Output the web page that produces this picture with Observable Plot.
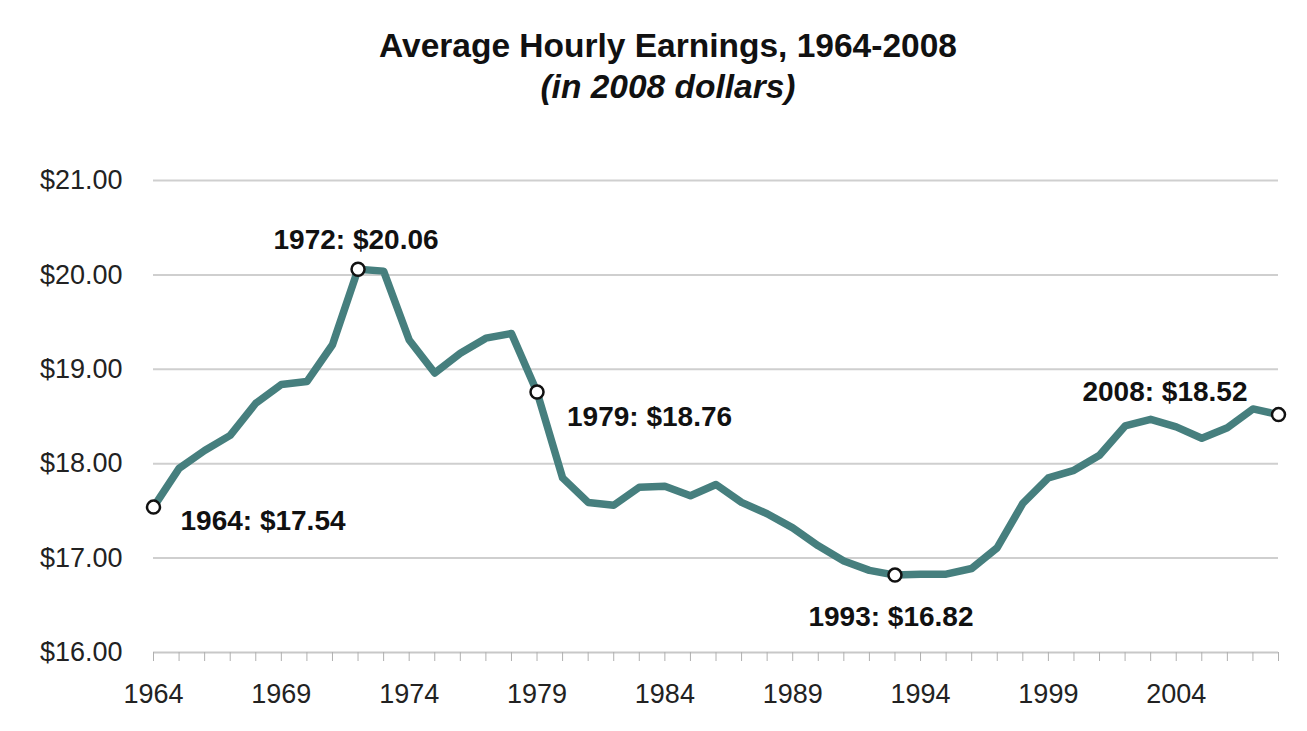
<!DOCTYPE html>
<html>
<head>
<meta charset="utf-8">
<script src="https://cdn.jsdelivr.net/npm/d3@7"></script>
<script src="https://cdn.jsdelivr.net/npm/@observablehq/plot@0.6"></script>
<style>
  body { margin: 0; background: #fff; overflow: hidden; }
  #wrap { position: relative; width: 1307px; }
  #head { position: relative; height: 130px; width: 1307px; }
  .t { position: absolute; left: 668px; transform: translateX(-50%); font-family: "Liberation Sans", Arial, sans-serif; font-weight: bold; color: #111; white-space: nowrap; line-height: normal; }
  #title { top: 27px; font-size: 33.5px; }
  #sub { top: 68px; font-size: 33.5px; font-style: italic; }
</style>
</head>
<body>
<div id="wrap">
  <div id="head">
    <div class="t" id="title">Average Hourly Earnings, 1964-2008</div>
    <div class="t" id="sub">(in 2008 dollars)</div>
  </div>
  <div id="chart"></div>
</div>
<script>
const years = d3.range(1964, 2009);
const earnings = [
  17.54, 17.95, 18.14, 18.30, 18.64, 18.84, 18.87, 19.26, 20.06, 20.04,
  19.31, 18.96, 19.17, 19.33, 19.38, 18.76, 17.85, 17.59, 17.56, 17.75,
  17.76, 17.66, 17.78, 17.59, 17.47, 17.32, 17.13, 16.97, 16.87, 16.82,
  16.83, 16.83, 16.89, 17.11, 17.58, 17.85, 17.93, 18.09, 18.40, 18.47,
  18.39, 18.27, 18.38, 18.58, 18.52
];
const yTicks = [16, 17, 18, 19, 20, 21];
const xLabelYears = [1964, 1969, 1974, 1979, 1984, 1989, 1994, 1999, 2004];
const annotatedYears = [1964, 1972, 1979, 1993, 2008];

const data = years.map((y, i) => ({year: y, value: earnings[i]}));
const marked = data.filter(d => annotatedYears.includes(d.year));

const labelStyle = {
  1964: {dx: 27, dy: 14, textAnchor: "start"},
  1972: {dx: -2, dy: -29, textAnchor: "middle"},
  1979: {dx: 30, dy: 25, textAnchor: "start"},
  1993: {dx: -4, dy: 42, textAnchor: "middle"},
  2008: {dx: -31, dy: -23, textAnchor: "end"}
};

const teal = "#467f7e";

const plot = Plot.plot({
  width: 1307,
  height: 601,
  marginTop: 50,
  marginBottom: 79,
  marginLeft: 153,
  marginRight: 29,
  style: {fontFamily: "'Liberation Sans', Arial, sans-serif", fontSize: "26px", color: "#222", background: "#fff"},
  x: {domain: [1964, 2008], label: null},
  y: {domain: [16, 21], label: null},
  marks: [
    Plot.ruleY(yTicks.filter(t => t > 16), {stroke: "#cfcfcf", strokeWidth: 2}),
    Plot.ruleY([16], {stroke: "#c8c8c8", strokeWidth: 2}),
    Plot.axisX({
      ticks: years,
      tickSize: 9,
      tickPadding: 22,
      stroke: "#b0b0b0",
      tickFormat: d => xLabelYears.includes(d) ? String(d) : "",
      fill: "#222",
      fontSize: 27
    }),
    Plot.axisY({
      ticks: yTicks,
      tickSize: 0,
      tickPadding: 31,
      tickFormat: d => "$" + d.toFixed(2),
      fill: "#222",
      fontSize: 27
    }),
    Plot.line(data, {x: "year", y: "value", stroke: teal, strokeWidth: 7.5, strokeLinejoin: "round", strokeLinecap: "round"}),
    Plot.dot(marked, {x: "year", y: "value", r: 6.5, fill: "white", stroke: "#111", strokeWidth: 2.5}),
    ...marked.map(d => Plot.text([d], {
      x: "year", y: "value",
      text: v => `${v.year}: $${v.value.toFixed(2)}`,
      dx: labelStyle[d.year].dx,
      dy: labelStyle[d.year].dy,
      textAnchor: labelStyle[d.year].textAnchor,
      fontWeight: "bold",
      fontSize: 28,
      fill: "#111"
    }))
  ]
});
document.getElementById("chart").appendChild(plot);
</script>
</body>
</html>
